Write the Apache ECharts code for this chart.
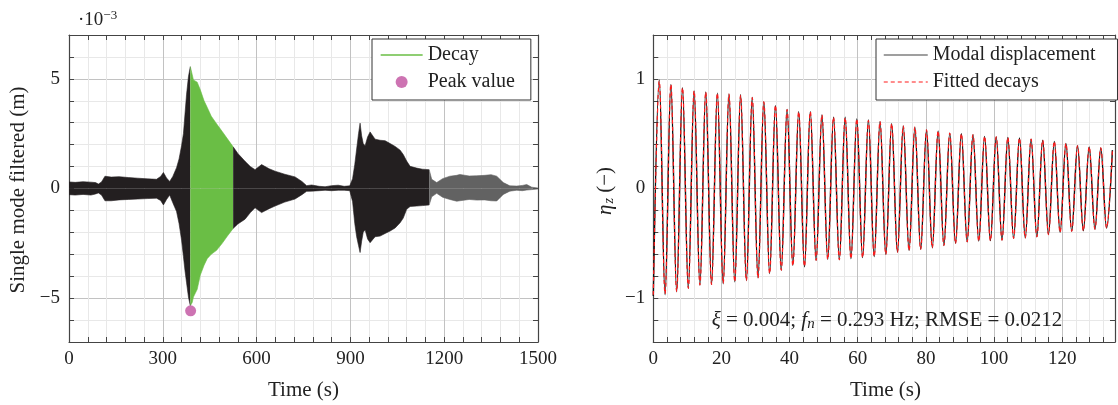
<!DOCTYPE html>
<html><head><meta charset="utf-8">
<script src="https://cdn.jsdelivr.net/npm/echarts@6/dist/echarts.min.js"></script>
<style>html,body{margin:0;padding:0;background:#fff}#c{width:1118px;height:405px}</style>
</head><body><div id="c"></div>
<script>
// ---------- Left chart: envelope of filtered single-mode signal (values in 1e-3 m) ----------
const envTime  = [0,20,45,70,85,94,104,115,135,160,190,220,250,280,293,302,312,322,332,344,352,360,366,371,376,382,388,394,398,410,420,432,442,455,472,490,505,525,540,563,580,595,616,640,659,690,723,745,760,776,800,819,840,861,880,898,907,914,920,926,931,936,941,947,955,963,979,995,1011,1027,1043,1059,1069,1080,1091,1112,1130,1152,1160,1176,1195,1218,1240,1250,1280,1304,1330,1350,1368,1389,1410,1432,1450,1464,1480,1500];
const envUpper = [0.30,0.28,0.31,0.29,0.27,0.20,0.30,0.56,0.52,0.54,0.50,0.47,0.44,0.42,0.55,0.73,0.48,0.32,0.55,0.95,1.35,1.95,2.50,3.40,4.30,5.10,5.56,5.20,4.95,4.85,4.50,4.00,3.70,3.30,2.95,2.60,2.30,1.90,1.60,1.24,1.00,0.86,1.09,0.90,0.79,0.65,0.53,0.32,0.13,0.16,0.10,0.08,0.13,0.15,0.10,0.12,0.45,1.10,1.80,2.50,2.98,2.40,2.05,1.95,2.35,2.58,2.25,2.20,2.18,2.05,1.92,1.75,1.55,1.25,1.01,0.93,0.88,0.86,0.42,0.27,0.45,0.56,0.60,0.64,0.57,0.58,0.60,0.63,0.56,0.27,0.12,0.11,0.14,0.18,0.06,0.02];
const envLower = [-0.28,-0.30,-0.27,-0.30,-0.25,-0.20,-0.30,-0.56,-0.56,-0.52,-0.50,-0.48,-0.46,-0.44,-0.55,-0.75,-0.50,-0.30,-0.65,-1.05,-1.60,-2.35,-3.10,-3.75,-4.30,-4.95,-5.35,-5.20,-4.95,-4.60,-3.95,-3.50,-3.20,-3.00,-2.82,-2.50,-2.20,-1.82,-1.62,-1.40,-1.10,-0.88,-1.10,-0.92,-0.80,-0.62,-0.48,-0.28,-0.13,-0.12,-0.10,-0.08,-0.10,-0.08,-0.08,-0.10,-0.60,-1.60,-2.20,-2.60,-2.92,-2.40,-2.00,-1.88,-2.30,-2.47,-2.20,-2.17,-2.05,-1.94,-1.80,-1.56,-1.35,-0.95,-0.82,-0.80,-0.78,-0.75,-0.38,-0.22,-0.40,-0.50,-0.58,-0.56,-0.50,-0.53,-0.52,-0.56,-0.57,-0.27,-0.12,-0.08,-0.10,-0.07,-0.05,-0.02];
const decayStart = 388, decayEnd = 525, grayStart = 1152;
const peakPoint = [389, -5.58];
const leftXTicks = [0, 300, 600, 900, 1200, 1500];
const leftYTicks = [-5, 0, 5];

// ---------- Right chart: modal displacement extrema ----------
const peakTimes = [1.75,5.16,8.57,11.98,15.39,18.8,22.21,25.62,29.03,32.44,35.85,39.26,42.67,46.08,49.49,52.9,56.31,59.72,63.13,66.54,69.95,73.36,76.77,80.18,83.59,87.0,90.41,93.82,97.23,100.64,104.05,107.46,110.87,114.28,117.69,121.1,124.51,127.92,131.33,134.74];
const peakVals  = [0.99,0.95,0.92,0.89,0.88,0.87,0.86,0.855,0.83,0.79,0.755,0.72,0.70,0.70,0.67,0.65,0.65,0.635,0.625,0.61,0.59,0.57,0.56,0.535,0.525,0.505,0.50,0.49,0.475,0.47,0.465,0.46,0.45,0.44,0.43,0.41,0.39,0.38,0.37,0.35];
const troughTimes = [0,3.45,6.86,10.27,13.68,17.09,20.5,23.91,27.32,30.73,34.14,37.55,40.96,44.37,47.78,51.19,54.6,58.01,61.42,64.83,68.24,71.65,75.06,78.47,81.88,85.29,88.7,92.11,95.52,98.93,102.34,105.75,109.16,112.57,115.98,119.39,122.8,126.21,129.62,133.03];
const troughVals  = [-0.98,-0.97,-0.94,-0.91,-0.88,-0.875,-0.87,-0.85,-0.84,-0.815,-0.775,-0.745,-0.70,-0.715,-0.655,-0.645,-0.65,-0.64,-0.63,-0.62,-0.60,-0.58,-0.565,-0.555,-0.54,-0.52,-0.50,-0.485,-0.48,-0.475,-0.47,-0.455,-0.45,-0.44,-0.42,-0.40,-0.39,-0.385,-0.37,-0.36];
const fitPeakVals   = [0.98,0.95,0.92,0.89,0.88,0.87,0.86,0.85,0.83,0.79,0.76,0.72,0.70,0.70,0.67,0.65,0.645,0.635,0.62,0.61,0.59,0.57,0.56,0.535,0.525,0.505,0.50,0.49,0.475,0.47,0.465,0.46,0.45,0.44,0.43,0.41,0.39,0.38,0.37,0.35];
const fitTroughVals = [-0.97,-0.96,-0.94,-0.91,-0.88,-0.875,-0.865,-0.85,-0.84,-0.815,-0.775,-0.745,-0.705,-0.71,-0.655,-0.645,-0.65,-0.64,-0.63,-0.62,-0.60,-0.58,-0.565,-0.555,-0.54,-0.52,-0.50,-0.485,-0.48,-0.475,-0.47,-0.455,-0.45,-0.44,-0.42,-0.40,-0.39,-0.385,-0.37,-0.36];
const rightXTicks = [0, 20, 40, 60, 80, 100, 120];
const rightYTicks = [-1, 0, 1];

// ---------- styling ----------
const FONT = "'Liberation Serif','DejaVu Serif',serif";
const AX = '#444', TXT = '#222';
const MAJ = '#c2c2c2', MIN = '#e8e8e8';
const BLACK = '#231f20', GREEN = '#6abe45', GRAY = '#626262', MAGENTA = '#c0509f';
const NOSYM = { color: 'rgba(0,0,0,0)', borderWidth: 0, opacity: 0 };

const fmtNum = v => (v < 0 ? '\u2212' + Math.abs(v) : String(v));
const near = (v, list) => list.find(t => Math.abs(t - v) < 1e-6);

function segment(lo, hi) {
  const up = [], dn = [];
  envTime.forEach((t, i) => { if (t >= lo && t <= hi) { up.push([t, envUpper[i]]); dn.push([t, envLower[i]]); } });
  return [up, dn];
}
function areaSeries(data, color) {
  return data.map(d => ({
    type: 'line', xAxisIndex: 0, yAxisIndex: 0, data: d, symbol: 'none', silent: true,
    lineStyle: { width: 0.6, color }, areaStyle: { color, opacity: 1 }, z: 2, animation: false
  }));
}
function interleave(tA, vA, tB, vB) {
  const pts = [];
  tA.forEach((t, i) => pts.push([t, vA[i]]));
  tB.forEach((t, i) => pts.push([t, vB[i]]));
  return pts.sort((a, b) => a[0] - b[0]);
}

function baseAxis(extra) {
  return Object.assign({
    type: 'value',
    axisLine: { show: true, onZero: false, lineStyle: { color: AX, width: 1.2 } },
    axisTick: { show: true, inside: true, length: 5, lineStyle: { color: AX, width: 1 } },
    axisLabel: { show: false },
    splitLine: { show: false }
  }, extra);
}
function labelCfg(ticks, margin) {
  return { show: true, margin, fontFamily: FONT, fontSize: 19, color: TXT,
           formatter: v => { const t = near(v, ticks); return t === undefined ? '' : fmtNum(t); } };
}

const series = [];
const blackA = segment(0, decayStart), green = segment(decayStart, decayEnd),
      blackB = segment(decayEnd, grayStart), gray = segment(grayStart, 1500);
series.push(...areaSeries(blackA, BLACK), ...areaSeries(green, GREEN),
            ...areaSeries(blackB, BLACK), ...areaSeries(gray, GRAY));
series.push({ name: 'Decay', type: 'line', xAxisIndex: 0, yAxisIndex: 0, data: [], symbol: 'none',
              lineStyle: { color: GREEN, width: 1.3 }, itemStyle: { color: GREEN } });
series.push({ name: 'Peak value', type: 'scatter', xAxisIndex: 0, yAxisIndex: 0, data: [peakPoint],
              symbol: 'circle', symbolSize: 11, itemStyle: { color: MAGENTA }, z: 6 });

series.push({ name: 'Modal displacement', type: 'line', xAxisIndex: 2, yAxisIndex: 2,
              data: interleave(peakTimes, peakVals, troughTimes, troughVals),
              smooth: 0.36, symbol: 'none', lineStyle: { color: '#111', width: 1.4 },
              itemStyle: { color: '#7f7f7f' }, z: 3, animation: false });
series.push({ name: 'Fitted decays', type: 'line', xAxisIndex: 2, yAxisIndex: 2,
              data: interleave(peakTimes, fitPeakVals, troughTimes, fitTroughVals),
              smooth: 0.36, symbol: 'none', lineStyle: { color: '#ff1a1a', width: 1.2, type: [4, 3] },
              itemStyle: { color: '#ff1a1a' }, z: 4, animation: false });

const legendCommon = {
  orient: 'vertical', top: 39, itemHeight: 12, itemGap: 7, selectedMode: false,
  borderColor: '#333', borderWidth: 1, backgroundColor: '#fff', borderRadius: 0,
  textStyle: { fontFamily: FONT, fontSize: 20, color: TXT, lineHeight: 20 }
};

const option = {
  animation: false,
  backgroundColor: '#fff',
  grid: [
    { left: 69, top: 35, width: 469, height: 307, containLabel: false },
    { left: 653.3, top: 35, width: 466, height: 307, containLabel: false }
  ],
  xAxis: [
    baseAxis({ gridIndex: 0, position: 'bottom', min: 0, max: 1500, interval: 60,
               axisLabel: labelCfg(leftXTicks, 8),
               splitLine: { show: true, lineStyle: { color: [MAJ, MIN, MIN, MIN, MIN], width: 1 } } }),
    baseAxis({ gridIndex: 0, position: 'top', min: 0, max: 1500, interval: 60 }),
    baseAxis({ gridIndex: 1, position: 'bottom', min: 0, max: 135.5, interval: 4,
               axisLabel: labelCfg(rightXTicks, 8),
               splitLine: { show: true, lineStyle: { color: [MAJ, MIN, MIN, MIN, MIN], width: 1 } } }),
    baseAxis({ gridIndex: 1, position: 'top', min: 0, max: 135.5, interval: 4 })
  ],
  yAxis: [
    baseAxis({ gridIndex: 0, position: 'left', min: -7, max: 7, interval: 1,
               axisLabel: labelCfg(leftYTicks, 9),
               splitLine: { show: true, lineStyle: { color: [MIN, MIN, MAJ, MIN, MIN], width: 1 } } }),
    baseAxis({ gridIndex: 0, position: 'right', min: -7, max: 7, interval: 1 }),
    baseAxis({ gridIndex: 1, position: 'left', min: -1.4, max: 1.4, interval: 0.2,
               axisLabel: labelCfg(rightYTicks, 8),
               splitLine: { show: true, lineStyle: { color: [MIN, MIN, MAJ, MIN, MIN], width: 1 } } }),
    baseAxis({ gridIndex: 1, position: 'right', min: -1.4, max: 1.4, interval: 0.2 })
  ],
  legend: [
    Object.assign({}, legendCommon, { left: 372, padding: [6, 16, 8, 8], itemWidth: 42,
      data: [{ name: 'Decay', itemStyle: NOSYM, lineStyle: { color: GREEN, width: 1.3 } },
             { name: 'Peak value', icon: 'circle' }] }),
    Object.assign({}, legendCommon, { left: 876, padding: [6, 22, 8, 7], itemWidth: 44,
      data: [{ name: 'Modal displacement', itemStyle: NOSYM, lineStyle: { color: '#7f7f7f', width: 1.5 } },
             { name: 'Fitted decays', itemStyle: NOSYM, lineStyle: { color: '#ff1a1a', width: 1.2, type: [4, 3] } }] })
  ],
  graphic: [
    { type: 'text', x: 18.5, y: 190, rotation: Math.PI / 2,
      style: { text: 'Single mode filtered (m)', font: '21px ' + FONT, fill: TXT, align: 'center', verticalAlign: 'middle' } },
    { type: 'text', x: 303.5, y: 390,
      style: { text: 'Time (s)', font: '21px ' + FONT, fill: TXT, align: 'center', verticalAlign: 'middle' } },
    { type: 'text', x: 78, y: 20,
      style: { text: '·10{sup|\u22123}', font: '19px ' + FONT, fill: TXT, align: 'left', verticalAlign: 'middle',
               rich: { sup: { fontFamily: FONT, fontSize: 13, fill: TXT, padding: [0, 0, 9, 0] } } } },
    { type: 'text', x: 605, y: 191, rotation: Math.PI / 2,
      style: { text: '{i|\u03b7}{sub|z} (\u2212)', font: '21px ' + FONT, fill: TXT, align: 'center', verticalAlign: 'middle',
               rich: { i: { fontFamily: FONT, fontSize: 21, fontStyle: 'italic', fill: TXT },
                       sub: { fontFamily: FONT, fontSize: 14, fontStyle: 'italic', fill: TXT, padding: [9, 0, 0, 1] } } } },
    { type: 'text', x: 885.5, y: 390,
      style: { text: 'Time (s)', font: '21px ' + FONT, fill: TXT, align: 'center', verticalAlign: 'middle' } },
    { type: 'text', x: 887, y: 320, z: 10,
      style: { text: '{i|\u03be} = 0.004; {i|f}{sub|n} = 0.293 Hz; RMSE = 0.0212', font: '21px ' + FONT, fill: TXT,
               align: 'center', verticalAlign: 'middle',
               rich: { i: { fontFamily: FONT, fontSize: 21, fontStyle: 'italic', fill: TXT },
                       sub: { fontFamily: FONT, fontSize: 15, fontStyle: 'italic', fill: TXT, padding: [9, 0, 0, 0] } } } }
  ],
  series
};

const chart = echarts.init(document.getElementById('c'), null, { renderer: 'canvas' });
chart.setOption(option);
</script>
</body></html>
